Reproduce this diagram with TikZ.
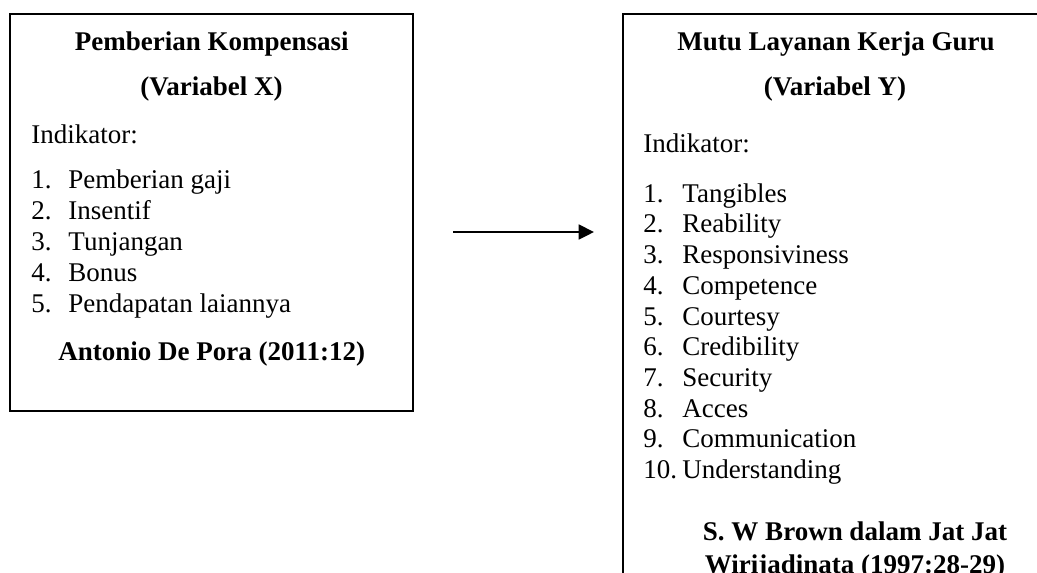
\documentclass[tikz,border=0pt]{standalone}
\usepackage{fontspec}
\setmainfont{Liberation Serif}
\usetikzlibrary{arrows.meta}
\def\U{0.4444pt}
\tikzset{
  x=0.4444pt, y=-0.4444pt,
  box/.style={draw=black, line width=0.75pt, minimum width=#1, inner sep=0pt, outer sep=0pt},
  txt/.style={inner sep=0pt, anchor=base west, font=\fontsize{12}{14}\selectfont},
  ctr/.style={inner sep=0pt, anchor=base, font=\fontsize{12}{14}\selectfont\bfseries},
  num/.style={inner sep=0pt, anchor=base west, font=\fontsize{12}{14}\selectfont},
  conn/.style={line width=0.9pt, -{Triangle[length=6.8pt,width=6.6pt]}}
}
\begin{document}
\begin{tikzpicture}
\clip (0,0) rectangle (1037,572);
\fill[white] (0,0) rectangle (1037,572);
% boxes
\node[box=403*\U, minimum height=397*\U] (bx) at (211.5,212.5) {};
\node[box=440*\U, minimum height=620*\U] (by) at (843,324) {};
% left box text
\node[ctr] (tx1) at (211.7,50) {Pemberian Kompensasi};
\node[ctr] (tx2) at (211.5,95) {(Variabel X)};
\node[txt] (ix) at (31,143) {Indikator:};
\foreach \n/\t/\y in {1/Pemberian gaji/188, 2/Insentif/219, 3/Tunjangan/250, 4/Bonus/281, 5/Pendapatan laiannya/312}{
  \node[num] (xn\n) at (31,\y) {\n.};
  \node[txt] (xt\n) at (68,\y) {\t};
}
\node[ctr] (sx) at (211.7,360) {Antonio De Pora (2011:12)};
% right box text
\node[ctr] (ty1) at (836,50) {Mutu Layanan Kerja Guru};
\node[ctr] (ty2) at (835,95) {(Variabel Y)};
\node[txt] (iy) at (643,152) {Indikator:};
\foreach \n/\t/\y in {1/Tangibles/202, 2/Reability/232, 3/Responsiviness/263, 4/Competence/294, 5/Courtesy/325, 6/Credibility/355, 7/Security/386, 8/Acces/417, 9/Communication/447, 10/Understanding/478}{
  \node[num] (yn\n) at (643,\y) {\n.};
  \node[txt] (yt\n) at (682,\y) {\t};
}
\node[ctr] (sy1) at (855,540) {S. W Brown dalam Jat Jat};
\node[ctr] (sy2) at (855,573) {Wirijadinata (1997:28-29)};
% arrow
\coordinate (a1) at (453,232);
\coordinate (a2) at (594,232);
\draw[conn] (a1) -- (a2);
\end{tikzpicture}
\end{document}
